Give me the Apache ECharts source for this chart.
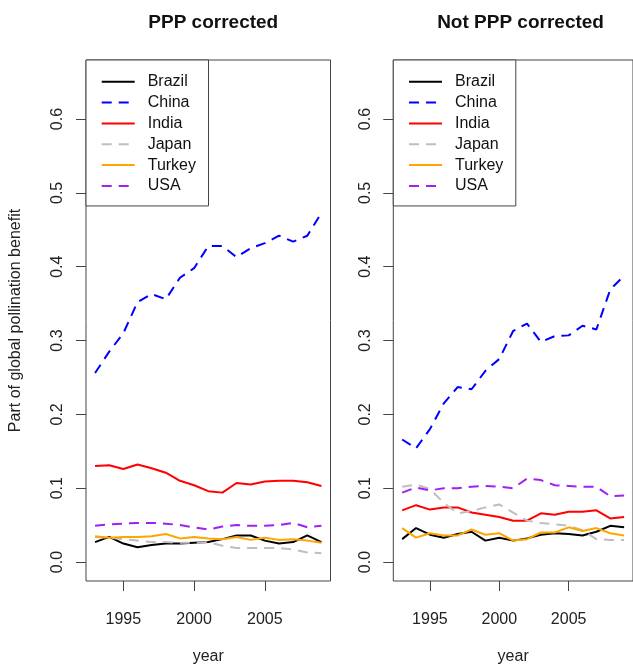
<!DOCTYPE html>
<html>
<head>
<meta charset="utf-8">
<script src="https://cdn.jsdelivr.net/npm/echarts@6/dist/echarts.min.js"></script>
<style>
html,body{margin:0;padding:0;background:#fff;}
#chart{width:633px;height:670px;}
</style>
</head>
<body>
<div id="chart"></div>
<script>
const years = [1993,1994,1995,1996,1997,1998,1999,2000,2001,2002,2003,2004,2005,2006,2007,2008,2009];
const countries = ['Brazil','China','India','Japan','Turkey','USA'];
const xTicks = [1995, 2000, 2005];
const yTicks = [0, 0.1, 0.2, 0.3, 0.4, 0.5, 0.6];
const panelTitles = ['PPP corrected', 'Not PPP corrected'];

// PPP corrected
const pppBrazil = [0.027,0.034,0.025,0.020,0.023,0.025,0.025,0.026,0.027,0.031,0.036,0.036,0.029,0.025,0.027,0.036,0.027];
const pppChina  = [0.256,0.285,0.310,0.352,0.363,0.356,0.385,0.398,0.428,0.428,0.413,0.425,0.432,0.442,0.434,0.442,0.473];
const pppIndia  = [0.130,0.131,0.126,0.132,0.127,0.121,0.110,0.104,0.096,0.094,0.107,0.105,0.109,0.110,0.110,0.108,0.103];
const pppJapan  = [0.034,0.033,0.031,0.029,0.027,0.027,0.026,0.026,0.027,0.022,0.019,0.019,0.019,0.019,0.017,0.013,0.012];
const pppTurkey = [0.035,0.033,0.034,0.034,0.035,0.038,0.032,0.034,0.032,0.031,0.034,0.030,0.033,0.030,0.031,0.029,0.026];
const pppUSA    = [0.049,0.051,0.052,0.053,0.053,0.052,0.050,0.047,0.044,0.048,0.050,0.049,0.049,0.050,0.053,0.047,0.049];

// Not PPP corrected
const rawBrazil = [0.031,0.046,0.037,0.033,0.038,0.041,0.029,0.033,0.029,0.032,0.037,0.039,0.038,0.036,0.041,0.049,0.047];
const rawChina  = [0.166,0.154,0.180,0.215,0.237,0.234,0.259,0.275,0.313,0.323,0.298,0.306,0.307,0.320,0.315,0.369,0.388];
const rawIndia  = [0.070,0.077,0.071,0.074,0.074,0.067,0.064,0.061,0.056,0.056,0.066,0.064,0.068,0.068,0.070,0.059,0.061];
const rawJapan  = [0.102,0.105,0.099,0.080,0.066,0.069,0.074,0.078,0.067,0.056,0.053,0.051,0.049,0.043,0.031,0.030,0.030];
const rawTurkey = [0.046,0.033,0.039,0.036,0.036,0.044,0.037,0.039,0.029,0.031,0.040,0.040,0.047,0.042,0.046,0.039,0.036];
const rawUSA    = [0.094,0.101,0.097,0.100,0.100,0.102,0.103,0.102,0.100,0.113,0.111,0.104,0.103,0.102,0.102,0.089,0.090];

const panels = [
  [pppBrazil, pppChina, pppIndia, pppJapan, pppTurkey, pppUSA],
  [rawBrazil, rawChina, rawIndia, rawJapan, rawTurkey, rawUSA]
];
const colors = ['#000000','#0000FF','#FF0000','#BEBEBE','#FFA500','#A020F0'];
const dashed = [false, true, false, true, false, true];

const FONT = 'Liberation Sans, Arial, Helvetica, sans-serif';
const AX = '#444';
const gridLefts = [86, 393.3];
const gridWidth = 244.5;

const series = [];
panels.forEach((vals, p) => {
  vals.forEach((arr, i) => {
    series.push({
      name: countries[i],
      type: 'line',
      xAxisIndex: p,
      yAxisIndex: p,
      symbol: 'none',
      color: colors[i],
      lineStyle: {color: colors[i], width: 2, type: dashed[i] ? [10, 7] : 'solid'},
      data: years.map((y, k) => [y, arr[k]]),
      animation: false
    });
  });
});

function xAxis(p) {
  return {
    type: 'value', gridIndex: p, min: 1992.36, max: 2009.64,
    axisLine: {show: false, onZero: false},
    axisTick: {show: true, length: 10, customValues: xTicks, lineStyle: {color: AX, width: 1}},
    axisLabel: {customValues: xTicks, margin: 31, fontSize: 16, color: '#222', fontFamily: FONT, formatter: v => String(v)},
    splitLine: {show: false},
    name: 'year', nameLocation: 'middle', nameGap: 68,
    nameTextStyle: {fontSize: 16, color: '#222', fontFamily: FONT}
  };
}
function yAxis(p) {
  const a = {
    type: 'value', gridIndex: p, min: -0.0257, max: 0.68,
    axisLine: {show: false, onZero: false},
    axisTick: {show: true, length: 10, customValues: yTicks, lineStyle: {color: AX, width: 1}},
    axisLabel: {customValues: yTicks, rotate: 90, margin: 20, fontSize: 16, color: '#222', fontFamily: FONT, formatter: v => v.toFixed(1)},
    splitLine: {show: false}
  };
  if (p === 0) {
    a.name = 'Part of global pollination benefit';
    a.nameLocation = 'middle';
    a.nameGap = 62;
    a.nameTextStyle = {fontSize: 16, color: '#222', fontFamily: FONT};
  }
  return a;
}
function legend(p) {
  return {
    left: gridLefts[p], top: 60, orient: 'vertical',
    data: countries,
    itemWidth: 33, itemHeight: 14, itemGap: 4.85,
    padding: [13.7, 12.5, 12, 14.7],
    borderColor: AX, borderWidth: 1, backgroundColor: '#fff',
    selectedMode: false,
    itemStyle: {color: 'rgba(0,0,0,0)', borderWidth: 0, borderColor: 'rgba(0,0,0,0)'},
    textStyle: {fontSize: 16, lineHeight: 16, color: '#111', fontFamily: FONT, padding: [0, 0, 0, 8]}
  };
}

const chart = echarts.init(document.getElementById('chart'), null, {renderer: 'canvas'});
chart.setOption({
  animation: false,
  backgroundColor: '#fff',
  title: panelTitles.map((t, p) => ({
    text: t, left: gridLefts[p] + gridWidth / 2, top: 8, textAlign: 'center',
    textStyle: {fontSize: 19, fontWeight: 'bold', color: '#111', fontFamily: FONT}
  })),
  grid: gridLefts.map(l => ({left: l, top: 60, width: gridWidth, height: 522, show: true, borderColor: AX, borderWidth: 1, backgroundColor: 'transparent'})),
  xAxis: [xAxis(0), xAxis(1)],
  yAxis: [yAxis(0), yAxis(1)],
  legend: [legend(0), legend(1)],
  series: series
});
</script>
</body>
</html>
